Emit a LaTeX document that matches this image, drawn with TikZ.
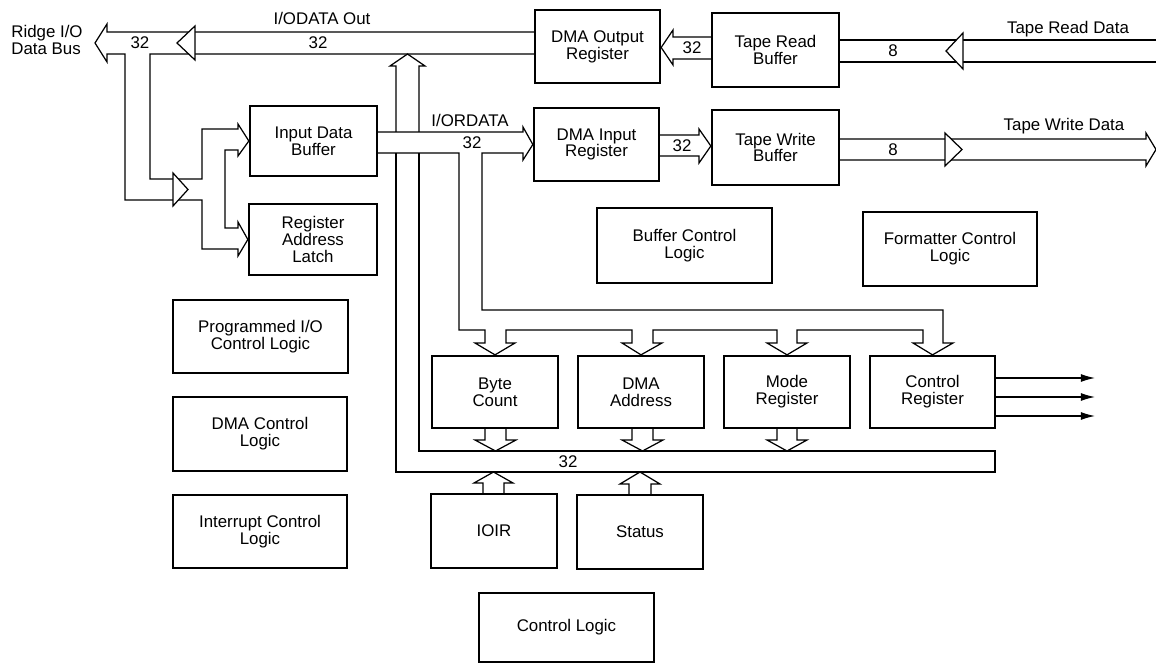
\documentclass[tikz,border=0pt]{standalone}
\usepackage{fontspec}
\setmainfont{Liberation Sans}
\usetikzlibrary{arrows.meta}
\tikzset{
  box/.style={draw,line width=1.3pt,align=center,inner sep=0pt},
  bus/.style={line width=0.7pt,line join=miter},
  sig/.style={line width=0.7pt,-{Latex[length=8pt,width=4.5pt]}},
  lbl/.style={inner sep=0pt},
}
\begin{document}
\begin{tikzpicture}[x=0.02cm,y=-0.02cm,font=\fontsize{9.6}{9.6}\selectfont]
\def\blk#1#2#3#4#5#6{\node[box,minimum width={(#4-#2)*0.02cm},minimum height={(#5-#3)*0.02cm}] (#1) at ({(#2+#4)/2},{(#3+#5)/2}) {#6};}
\useasboundingbox (0,0) rectangle (1156,665);
% cac hop
\blk{idb}{250}{106}{377}{176}{Input Data\\Buffer}
\blk{ral}{249}{204}{377}{275}{Register\\Address\\Latch}
\blk{pio}{173}{300}{348}{373}{Programmed I/O\\Control Logic}
\blk{dmac}{173}{397}{347}{471}{DMA Control\\Logic}
\blk{intc}{173}{495}{347}{568}{Interrupt Control\\Logic}
\blk{dor}{535}{10}{660}{83}{DMA Output\\Register}
\blk{dir}{534}{108}{659}{181}{DMA Input\\Register}
\blk{trb}{712}{13}{839}{87}{Tape Read\\Buffer}
\blk{twb}{712}{110}{839}{185}{Tape Write\\Buffer}
\blk{bcl}{597}{208}{772}{283}{Buffer Control\\Logic}
\blk{fcl}{863}{212}{1037}{286}{Formatter Control\\Logic}
\blk{bc}{432}{356}{558}{428}{Byte\\Count}
\blk{da}{578}{356}{704}{428}{DMA\\Address}
\blk{mr}{724}{356}{850}{428}{Mode\\Register}
\blk{cr}{870}{356}{995}{428}{Control\\Register}
\blk{ioir}{431}{494}{557}{568}{IOIR}
\blk{st}{577}{495}{703}{569}{Status}
\blk{cl}{479}{593}{654}{662}{Control Logic}
% bus tren va nhanh trai
\draw[bus] (535,32) -- (107,32) -- (107,24) -- (95,43) -- (107,62) -- (107,54) -- (125,54) -- (125,200) -- (202,200) -- (202,249) -- (238,249) -- (238,256) -- (ral.west) -- (238,222) -- (238,228) -- (225,228) -- (225,150) -- (238,150) -- (238,156) -- (idb.west) -- (238,124) -- (238,129) -- (202,129) -- (202,179) -- (150,179) -- (150,54) -- (535,54);
\draw[bus,fill=white] (195,26) -- (177,43) -- (195,60) -- cycle;
\draw[bus,fill=white] (173,173) -- (188,189.5) -- (173,206) -- cycle;
% bus doc va bus duoi
\draw[bus] (396,132) -- (396,66) -- (390,66) -- (407.5,54) -- (425,66) -- (419,66) -- (419,132);
\draw[bus] (396,153) -- (396,472) -- (995,472) -- (995,451) -- (419,451) -- (419,153);
% I/ORDATA
\draw[bus] (377,132) -- (523,132) -- (523,127) -- (dir.west) -- (523,160) -- (523,153) -- (482,153) -- (482,310) -- (943,310) -- (943,343) -- (953,343) -- (cr.north) -- (913,343) -- (923,343) -- (923,330) -- (797,330) -- (797,343) -- (807,343) -- (mr.north) -- (767,343) -- (777,343) -- (777,330) -- (653,330) -- (653,343) -- (662,343) -- (da.north) -- (622,343) -- (632,343) -- (632,330) -- (506,330) -- (506,343) -- (515,343) -- (bc.north) -- (475,343) -- (485,343) -- (485,330) -- (459,330) -- (459,153) -- (377,153);
% mui ten xuong bus duoi
\draw[bus] (485,428) -- (485,440) -- (475,440) -- (495.5,451) -- (516,440) -- (506,440) -- (506,428);
\draw[bus] (632,428) -- (632,440) -- (622,440) -- (642.5,451) -- (663,440) -- (653,440) -- (653,428);
\draw[bus] (777,428) -- (777,440) -- (767,440) -- (787,451) -- (807,440) -- (797,440) -- (797,428);
% mui ten len bus duoi
\draw[bus] (483,494) -- (483,483) -- (474,483) -- (493.5,472) -- (513,483) -- (504,483) -- (504,494);
\draw[bus] (629,495) -- (629,484) -- (620,484) -- (640,472) -- (660,484) -- (651,484) -- (651,495);
% bang tu
\draw[bus] (trb.west |- 0,37) -- (673,37) -- (673,30) -- (dor.east |- 0,47.5) -- (673,65) -- (673,59) -- (trb.west |- 0,59);
\draw[bus] (dir.east |- 0,135) -- (699,135) -- (699,129) -- (twb.west |- 0,146) -- (699,163) -- (699,156) -- (dir.east |- 0,156);
\draw[bus] (1156,40) -- (trb.east |- 0,40) (trb.east |- 0,62) -- (1156,62);
\draw[bus,fill=white] (963,33) -- (946,51) -- (963,69) -- cycle;
\draw[bus] (twb.east |- 0,139) -- (1146,139) -- (1146,133) -- (1156,149.5) -- (1146,166) -- (1146,160) -- (twb.east |- 0,160);
\draw[bus,fill=white] (945,133) -- (962,149.5) -- (945,166) -- cycle;
% tin hieu ra
\coordinate (o1) at (1095,378);
\coordinate (o2) at (1095,397);
\coordinate (o3) at (1095,416);
\draw[sig] (cr.east |- o1) -- (o1);
\draw[sig] (cr.east |- o2) -- (o2);
\draw[sig] (cr.east |- o3) -- (o3);
% nhan
\node[lbl,align=left,anchor=west] (ridge) at (11,40) {Ridge I/O\\Data Bus};
\node[lbl] (odata) at (322,18) {I/ODATA Out};
\node[lbl] (w1) at (140,43) {32};
\node[lbl] (w2) at (318,43) {32};
\node[lbl] (ordata) at (470,120) {I/ORDATA};
\node[lbl] (w3) at (472,143) {32};
\node[lbl] (w4) at (692,48) {32};
\node[lbl] (w5) at (682,146) {32};
\node[lbl] (rd) at (1068,29) {Tape Read Data};
\node[lbl] (w6) at (893,51) {8};
\node[lbl] (wd) at (1064,126) {Tape Write Data};
\node[lbl] (w7) at (893,150) {8};
\node[lbl] (w8) at (568,462) {32};
\end{tikzpicture}
\end{document}
